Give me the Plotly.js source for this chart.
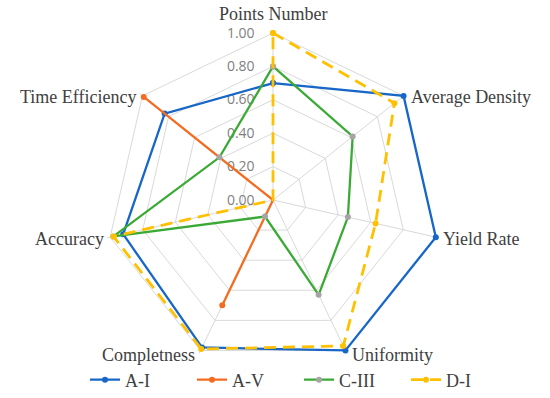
<!DOCTYPE html>
<html>
<head>
<meta charset="utf-8">
<script src="https://cdn.plot.ly/plotly-3.0.1.min.js"></script>
<style>html,body{margin:0;padding:0;background:#fff}#chart{width:550px;height:398px}</style>
</head>
<body>
<div id="chart"></div>
<script>
const categories = ["Points Number","Average Density","Yield Rate","Uniformity","Completness","Accuracy","Time Efficiency"];
const seriesNames = ["A-I","A-V","C-III","D-I"];
const valuesAI   = [0.70, 1.00, 1.00, 1.00, 0.98, 0.92, 0.83];
const valuesAV   = [0.00, 0.00, 0.00, 0.00, 0.70, 0.00, 0.99];
const valuesCIII = [0.80, 0.61, 0.46, 0.63, 0.11, 0.98, 0.41];
const valuesDI   = [1.00, 0.93, 0.63, 0.97, 0.99, 0.98, 0.00];
const radialTicks = [0, 0.2, 0.4, 0.6, 0.8, 1.0];

const colors = ["#1766c8","#f36c21","#3aaa35","#ffc000"];
const markerColors = ["#1766c8","#f36c21","#a5a5a5","#ffc000"];
const allValues = [valuesAI, valuesAV, valuesCIII, valuesDI];
const serif = "Liberation Serif, DejaVu Serif, serif";

function close(a){ return a.concat([a[0]]); }

const traces = allValues.map((v,i)=>({
  type:"scatterpolar",
  mode:"lines+markers",
  name: seriesNames[i],
  r: close(v),
  theta: close(categories),
  line:{color:colors[i], width: i===3 ? 2.8 : 2.3, dash: i===3 ? "12px,7px" : "solid"},
  marker:{color:markerColors[i], size:6, symbol: "circle"},
  cliponaxis:false
}));

const R = 167, cx = 273, cy = 200, W = 550, H = 398;
const rMax = 1.02;           // a little headroom so lines on the outer ring are not clipped
const Rd = R * rMax;

// category labels placed just outside each vertex of the outer ring
const annotations = categories.map((c,i)=>{
  const a = (90 - i*360/categories.length) * Math.PI/180;
  const co = Math.cos(a), si = Math.sin(a);
  const px = cx + R*co, py = cy - R*si;
  let xanchor = "center", xshift = 0, yshift = 0;
  if (co > 0.1) { xanchor = "left"; xshift = 5; }
  else if (co < -0.1) { xanchor = "right"; xshift = -4; }
  if (si > 0.9) yshift = 19;
  else if (si < -0.5) yshift = -5;
  else yshift = -1.5;
  return {
    text:c, showarrow:false, xref:"paper", yref:"paper",
    x:px/W, y:1-py/H, xanchor:xanchor, yanchor:"middle",
    xshift:xshift, yshift:yshift,
    font:{family:serif, size:18, color:"#404040"}
  };
});

const layout = {
  width: W, height: H,
  margin:{l:0,r:0,t:0,b:0, autoexpand:false},
  paper_bgcolor:"#fff",
  plot_bgcolor:"#fff",
  showlegend:true,
  annotations:annotations,
  legend:{
    orientation:"h",
    xref:"container", yref:"container",
    x: 85/W, xanchor:"left",
    y: 1-380/H, yanchor:"middle",
    bgcolor:"rgba(0,0,0,0)",
    font:{family:serif, size:18, color:"#404040"},
    entrywidth:62, entrywidthmode:"pixels",
    itemwidth:30
  },
  polar:{
    domain:{x:[(cx-Rd)/W,(cx+Rd)/W], y:[1-(cy+Rd)/H, 1-(cy-Rd)/H]},
    gridshape:"linear",
    bgcolor:"#fff",
    angularaxis:{
      direction:"clockwise",
      rotation:90,
      categoryorder:"array",
      categoryarray:categories,
      showline:false,
      gridcolor:"#d9d9d9", gridwidth:1,
      ticks:"",
      showticklabels:false,
      layer:"below traces"
    },
    radialaxis:{
      range:[0,rMax],
      tickvals:radialTicks,
      tickformat:".2f",
      angle:90,
      tickangle:90,
      side:"counterclockwise",
      showline:false,
      ticks:"outside", ticklen:13, tickcolor:"rgba(0,0,0,0)",
      layer:"below traces",
      gridcolor:"#d9d9d9", gridwidth:1,
      tickfont:{family:"Open Sans", size:14, color:"#7f7f7f"}
    }
  }
};
Plotly.newPlot("chart", traces, layout, {displayModeBar:false, staticPlot:true});
</script>
</body>
</html>
